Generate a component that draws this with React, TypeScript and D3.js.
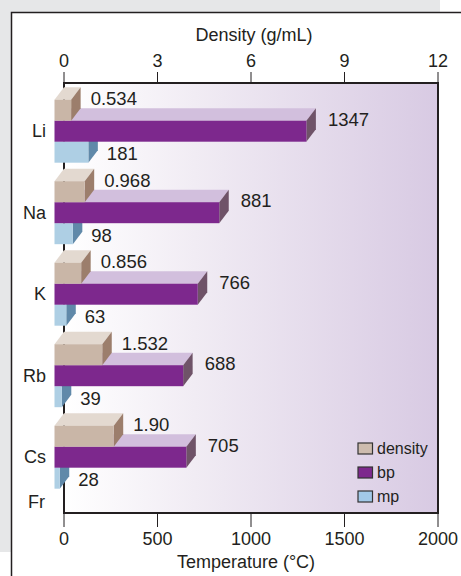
import * as d3 from 'd3';

const elements = ['Li', 'Na', 'K', 'Rb', 'Cs'];
const densityValues = [0.534, 0.968, 0.856, 1.532, 1.9];
const densityLabels = ['0.534', '0.968', '0.856', '1.532', '1.90'];
const bpValues = [1347, 881, 766, 688, 705];
const mpValues = [181, 98, 63, 39, 28];
const extraCategory = 'Fr';
const densityTicks = [0, 3, 6, 9, 12];
const tempTicks = [0, 500, 1000, 1500, 2000];
const seriesNames = ['density', 'bp', 'mp'];

const W = 461;
const H = 576;
const font = '"Liberation Sans", Arial, Helvetica, sans-serif';
const ink = '#231f20';

// front / top / side shades per series
const colors: Record<string, { front: string; top: string; side: string; key: string }> = {
    density: { front: '#c9b6a7', top: '#e3d9d0', side: '#9c7e6c', key: '#cdbcae' },
    bp: { front: '#7d288d', top: '#d2bfdd', side: '#6f5368', key: '#7d288d' },
    mp: { front: '#aecfe4', top: '#d8e8f2', side: '#6089a9', key: '#a2c9e8' }
};

const plot = { left: 64, right: 438, top: 83, bottom: 513 };
const dx = 9.5;
const dy = 12.5;
const barH = 21;

export default function App() {
    const xT = d3.scaleLinear().domain([0, 2000]).range([plot.left, plot.right]);
    const xD = d3.scaleLinear().domain([0, 12]).range([plot.left, plot.right]);
    const y = d3.scalePoint<string>().domain(elements).range([131.2, 457.2]);
    const frY = (y('Cs') || 0) + y.step() * 0.55;

    const bar = (key: string, x0: number, xv: number, top: number) => {
        const c = colors[key];
        const fl = x0 - dx;
        const fr = xv - dx;
        return (
            <g key={key}>
                <polygon
                    points={`${fl},${top} ${fr},${top} ${xv},${top - dy} ${x0},${top - dy}`}
                    fill={c.top}
                />
                <polygon
                    points={`${fr},${top} ${xv},${top - dy} ${xv},${top - dy + barH} ${fr},${top + barH}`}
                    fill={c.side}
                />
                <rect x={fl} y={top} width={Math.max(0, fr - fl)} height={barH} fill={c.front} />
            </g>
        );
    };

    return (
        <svg
            width={W}
            height={H}
            style={{ position: 'absolute', left: 0, top: 0, display: 'block' }}
            fontFamily={font}
        >
            <defs>
                <linearGradient id="bg" x1="0" x2="1" y1="0" y2="0">
                    <stop offset="0" stopColor="#ffffff" />
                    <stop offset="0.35" stopColor="#f1ecf4" />
                    <stop offset="1" stopColor="#d8cae3" />
                </linearGradient>
            </defs>

            <rect x={0} y={0} width={440} height={552} fill="#e6e7e8" />
            <rect x={11.5} y={12.5} width={470} height={580} fill="#ffffff" stroke={ink} strokeWidth={1.5} />

            <rect
                x={plot.left}
                y={plot.top}
                width={plot.right - plot.left}
                height={plot.bottom - plot.top}
                fill="url(#bg)"
            />
            <line x1={plot.left} x2={plot.left} y1={plot.top} y2={plot.bottom} stroke={ink} strokeWidth={2} />

            {elements.map((el, i) => {
                const mid = y(el) || 0;
                const bpTop = mid - barH / 2;
                return (
                    <g key={el}>
                        {bar('mp', xT(0), xT(mpValues[i]), bpTop + barH)}
                        {bar('bp', xT(0), xT(bpValues[i]), bpTop)}
                        {bar('density', xD(0), xD(densityValues[i]), bpTop - barH)}
                    </g>
                );
            })}

            {/* frame */}
            <line x1={plot.left - 1} x2={plot.right + 1} y1={plot.top} y2={plot.top} stroke={ink} strokeWidth={2} />
            <line x1={plot.right} x2={plot.right} y1={plot.top} y2={plot.bottom} stroke={ink} strokeWidth={2} />
            <line x1={plot.left - 1} x2={plot.right + 1} y1={plot.bottom} y2={plot.bottom} stroke={ink} strokeWidth={2} />

            {/* value labels */}
            {elements.map((el, i) => {
                const mid = y(el) || 0;
                const bpTop = mid - barH / 2;
                return (
                    <g key={el + '-lbl'} fontSize={18.5} fill={ink} dominantBaseline="central">
                        <text x={xD(densityValues[i]) + 10} y={bpTop - barH - 1}>{densityLabels[i]}</text>
                        <text x={xT(bpValues[i]) + 12} y={bpTop - 1.5}>{bpValues[i]}</text>
                        <text x={xT(mpValues[i]) + 9} y={bpTop + barH + 12}>{mpValues[i]}</text>
                    </g>
                );
            })}

            {/* category labels */}
            <g fontSize={18} fill={ink} textAnchor="end" dominantBaseline="central">
                {elements.map(el => (
                    <text key={el} x={46} y={y(el) || 0}>{el}</text>
                ))}
                <text x={45} y={frY}>{extraCategory}</text>
            </g>

            {/* top axis: density */}
            <g fontSize={18} fill={ink} textAnchor="middle">
                {densityTicks.map(t => (
                    <g key={'d' + t}>
                        <line x1={xD(t)} x2={xD(t)} y1={plot.top} y2={plot.top - 11} stroke={ink} strokeWidth={1} />
                        <text x={xD(t)} y={66.5}>{t}</text>
                    </g>
                ))}
                <text x={(plot.left + plot.right) / 2 + 3} y={41}>Density (g/mL)</text>
            </g>

            {/* bottom axis: temperature */}
            <g fontSize={18} fill={ink} textAnchor="middle">
                {tempTicks.map(t => (
                    <g key={'t' + t}>
                        <line x1={xT(t)} x2={xT(t)} y1={plot.bottom} y2={plot.bottom + 14} stroke={ink} strokeWidth={1} />
                        <text x={xT(t)} y={545}>{t}</text>
                    </g>
                ))}
                <text x={(plot.left + plot.right) / 2 - 5} y={568}>Temperature (°C)</text>
            </g>

            {/* legend */}
            <g fontSize={16} fill={ink}>
                {seriesNames.map((s, i) => (
                    <g key={s} transform={`translate(358,${448.5 + i * 24})`}>
                        <rect x={0} y={-5.5} width={14.5} height={11} fill={colors[s].key} stroke="#333" strokeWidth={1.2} />
                        <text x={19} y={0} dominantBaseline="central">{s}</text>
                    </g>
                ))}
            </g>
        </svg>
    );
}
